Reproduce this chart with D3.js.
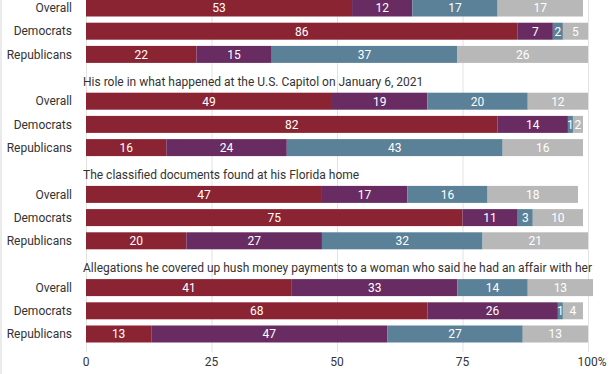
<!DOCTYPE html>
<html>
<head>
<meta charset="utf-8">
<script src="https://cdn.jsdelivr.net/npm/d3@7"></script>
<style>
  body { margin: 0; background: #fff; }
  svg { font-family: Roboto, "Noto Sans", sans-serif; }
</style>
</head>
<body>
<div id="chart-area"></div>
<script>
var width = 612, height = 374;

// data (first group's title is cropped out of the picture)
var titles = [
    "",
    "His role in what happened at the U.S. Capitol on January 6, 2021",
    "The classified documents found at his Florida home",
    "Allegations he covered up hush money payments to a woman who said he had an affair with her"
];
var groups = ["Overall", "Democrats", "Republicans"];
var colors = ["#8a2433", "#682c63", "#5a8197", "#b8b8b8"];
var values = [
    [[53, 12, 17, 17], [86, 7, 2, 5], [22, 15, 37, 26]],
    [[49, 19, 20, 12], [82, 14, 1, 2], [16, 24, 43, 16]],
    [[47, 17, 16, 18], [75, 11, 3, 10], [20, 27, 32, 21]],
    [[41, 33, 14, 13], [68, 26, 1, 4], [13, 47, 27, 13]]
];
var tickVals = [0, 25, 50, 75, 100];

var svg = d3.select("#chart-area")
    .append("svg")
    .attr("width", width)
    .attr("height", height);

var x = d3.scaleLinear()
    .domain([0, 100])
    .range([86, 588]);

var groupStep = 93.2, rowStep = 23.2, barH = 17;
var y0 = -0.5;

// border + gridlines
svg.append("line")
    .attr("x1", 1).attr("x2", 1)
    .attr("y1", 0).attr("y2", height)
    .attr("stroke", "#d6d6d6");

svg.selectAll(".grid").data(tickVals).enter()
    .append("line")
    .attr("class", "grid")
    .attr("x1", function(d) { return x(d) + 0.5; })
    .attr("x2", function(d) { return x(d) + 0.5; })
    .attr("y1", 0)
    .attr("y2", 352)
    .attr("stroke", "#e2e2e2");

values.forEach(function(gv, gi) {
    var gTop = y0 + gi * groupStep;
    var g = svg.append("g").attr("transform", "translate(0," + gTop + ")");

    if (titles[gi]) {
        g.append("text")
            .attr("x", 83)
            .attr("y", -11)
            .attr("dy", "0.35em")
            .attr("font-size", "12px")
            .attr("fill", "#333")
            .text(titles[gi]);
    }

    gv.forEach(function(row, ri) {
        var ry = ri * rowStep;
        g.append("text")
            .attr("x", 72)
            .attr("y", ry + barH / 2)
            .attr("dy", "0.35em")
            .attr("text-anchor", "end")
            .attr("font-size", "12px")
            .attr("fill", "#333")
            .text(groups[ri]);

        var acc = 0;
        var segs = row.map(function(v, i) {
            var s = { start: acc, value: v, i: i };
            acc += v;
            return s;
        });

        g.selectAll(".seg" + ri).data(segs).enter()
            .append("rect")
            .attr("x", function(d) { return x(d.start); })
            .attr("y", ry)
            .attr("width", function(d) { return x(d.start + d.value) - x(d.start); })
            .attr("height", barH)
            .attr("fill", function(d) { return colors[d.i]; });

        g.selectAll(".lab" + ri).data(segs).enter()
            .append("text")
            .attr("x", function(d) { return x(d.start + d.value / 2); })
            .attr("y", ry + barH / 2)
            .attr("dy", "0.36em")
            .attr("text-anchor", "middle")
            .attr("font-size", "12px")
            .attr("fill", "#fff")
            .text(function(d) { return d.value; });
    });
});

// x axis labels
svg.selectAll(".tick").data(tickVals).enter()
    .append("text")
    .attr("class", "tick")
    .attr("x", function(d) { return x(d) + (d === 100 ? 4 : 0); })
    .attr("y", 362)
    .attr("dy", "0.35em")
    .attr("text-anchor", "middle")
    .attr("font-size", "12px")
    .attr("fill", "#333")
    .text(function(d) { return d === 100 ? "100%" : d; });
</script>
</body>
</html>
